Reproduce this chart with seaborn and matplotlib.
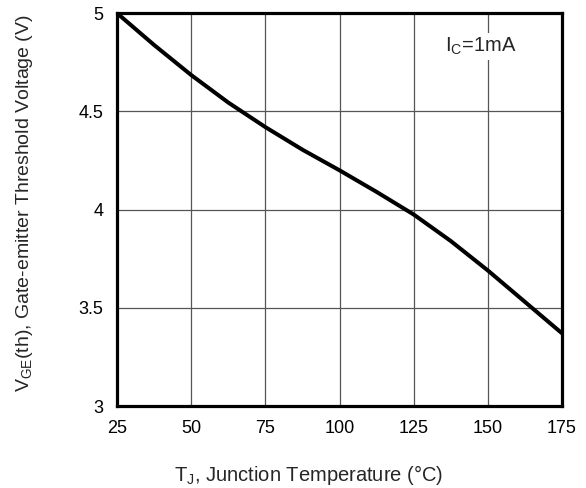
import pandas as pd
import seaborn as sns
import matplotlib.pyplot as plt

temp = [25, 37.5, 50, 62.5, 75, 87.5, 100, 112.5, 125, 137.5, 150, 162.5, 175]
vth = [5.0, 4.838, 4.685, 4.545, 4.42, 4.305, 4.20, 4.09, 3.975, 3.84, 3.69, 3.53, 3.37]
xticks = [25, 50, 75, 100, 125, 150, 175]
yticks = [3, 3.5, 4, 4.5, 5]
ytick_labels = ['3', '3.5', '4', '4.5', '5']

df = pd.DataFrame({'T': temp, 'V': vth})

sns.set_style('white')
plt.rcParams['font.family'] = ['Liberation Sans', 'DejaVu Sans']
plt.rcParams['mathtext.fontset'] = 'custom'
plt.rcParams['mathtext.rm'] = 'Liberation Sans'
plt.rcParams['mathtext.it'] = 'Liberation Sans'

fig = plt.figure(figsize=(5.86, 4.88), dpi=100)
ax = fig.add_axes([0.1997, 0.168, 0.7594, 0.805])

sns.lineplot(data=df, x='T', y='V', color='black', linewidth=2.9, ax=ax)

ax.set_xlim(25, 175)
ax.set_ylim(3, 5)
ax.set_xticks(xticks)
ax.set_yticks(yticks)
ax.set_yticklabels(ytick_labels)
ax.tick_params(length=0, pad=10, labelsize=13, colors='black')
ax.grid(True, color='#555555', linewidth=0.9)
for s in ax.spines.values():
    s.set_visible(True)
    s.set_color('black')
    s.set_linewidth(2.3)

ax.set_xlabel(r'T$_\mathrm{J}$, Junction Temperature (°C)', fontsize=14.5, va='center')
ax.xaxis.set_label_coords(0.43, -0.175)
ax.set_ylabel(r'V$_\mathrm{GE}$(th), Gate-emitter Threshold Voltage (V)', fontsize=14, va='center')
ax.yaxis.set_label_coords(-0.209, 0.517)

ax.text(147.6, 4.83, r'I$_\mathrm{C}$=1mA', fontsize=14.5, ha='center', va='center',
        bbox=dict(facecolor='white', edgecolor='none', pad=2))

fig.savefig('out.png', dpi=100)
